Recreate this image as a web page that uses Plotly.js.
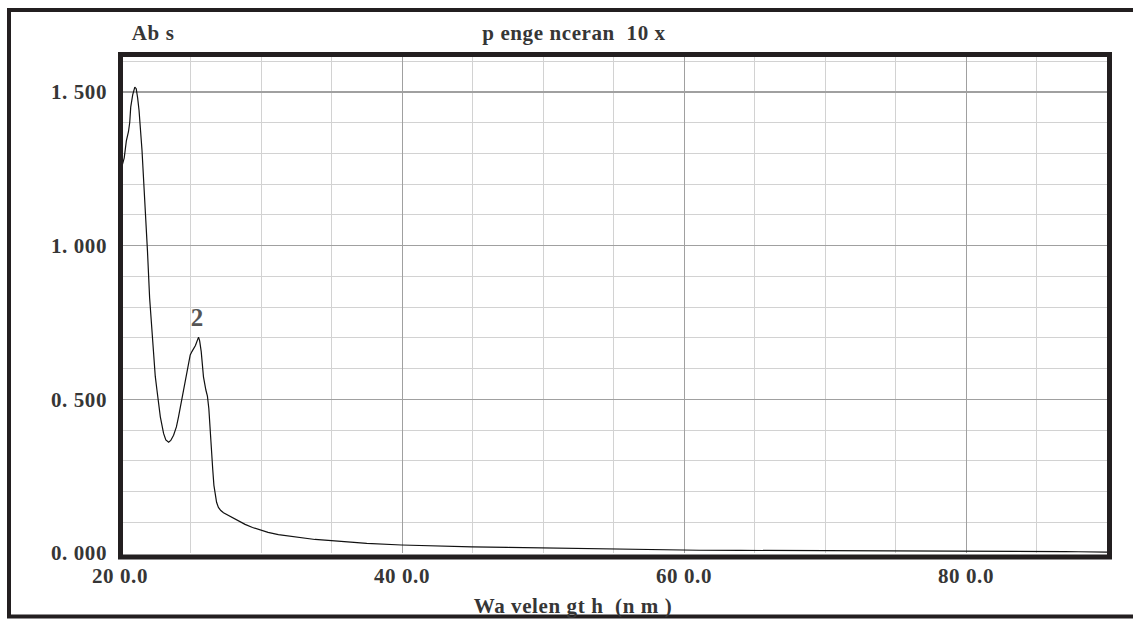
<!DOCTYPE html>
<html>
<head>
<meta charset="utf-8">
<script src="https://cdn.plot.ly/plotly-3.0.1.min.js"></script>
<style>
html,body{margin:0;padding:0;background:#fff;}
#chart{width:1133px;height:619px;}
#chart svg text{letter-spacing:0.6px;}
</style>
</head>
<body>
<div id="chart"></div>
<script>
// Wavelength (nm) and absorbance
var wavelength = [200, 201.5, 203, 204.5, 206, 206.9, 207.6, 209, 210.5, 211.5, 212.5, 213.5, 215.6, 218, 219.5, 221, 222.5, 223.8, 225, 226.2, 228.6, 230.9, 232.5, 234.5, 236, 238, 240, 241.5, 243, 244, 245.1, 247.5, 249.8, 251, 252.1, 253.5, 255.7, 256.5, 257.6, 258.5, 259.2, 260.9, 262, 263, 264, 265, 265.8, 266.6, 267.5, 268.5, 269.8, 271.5, 273.4, 277, 281.7, 285, 288.7, 294, 299.3, 305, 312.3, 318, 324.1, 331, 338.3, 350, 359.5, 375, 399.6, 425, 449.6, 475, 499.4, 525, 549.3, 575, 587, 610.7, 640, 670, 700, 730, 752, 758, 764, 770, 776, 790, 795, 800, 820, 848, 852, 858, 870, 880, 890, 900];
var absorbance = [1.20, 1.26, 1.285, 1.34, 1.37, 1.40, 1.45, 1.49, 1.515, 1.51, 1.48, 1.44, 1.31, 1.12, 0.98, 0.83, 0.72, 0.63, 0.575, 0.53, 0.443, 0.389, 0.368, 0.360, 0.366, 0.383, 0.41, 0.443, 0.48, 0.50, 0.52, 0.578, 0.644, 0.655, 0.662, 0.675, 0.702, 0.69, 0.655, 0.61, 0.573, 0.530, 0.51, 0.47, 0.41, 0.33, 0.27, 0.22, 0.19, 0.165, 0.148, 0.138, 0.131, 0.122, 0.111, 0.102, 0.093, 0.083, 0.075, 0.067, 0.060, 0.056, 0.052, 0.048, 0.044, 0.040, 0.036, 0.031, 0.026, 0.022, 0.020, 0.018, 0.016, 0.014, 0.012, 0.0115, 0.010, 0.009, 0.0085, 0.008, 0.0075, 0.007, 0.0075, 0.0085, 0.0075, 0.0085, 0.007, 0.0065, 0.0075, 0.006, 0.0055, 0.005, 0.0062, 0.005, 0.0045, 0.004, 0.0035, 0.003];

var xTickVals = [200, 400, 600, 800];
var xTickText = ["20 0.0", "40 0.0", "60 0.0", "80 0.0"];
var yTickVals = [0, 0.5, 1.0, 1.5];
var yTickText = ["0. 000", "0. 500", "1. 000", "1. 500"];

var chartTitle = "p enge nceran  10 x";
var xTitle = "Wa velen gt h  (n m )";
var yTitle = "Ab s";
var peakLabel = "2";

// locate the second peak in the data for its label
var peakIdx = 0, peakVal = -1;
for (var i = 0; i < wavelength.length; i++) {
  if (wavelength[i] > 240 && wavelength[i] < 270 && absorbance[i] > peakVal) { peakVal = absorbance[i]; peakIdx = i; }
}

var serif = "Liberation Serif, Times New Roman, serif";
var txtColor = "#363636";
var fs = 21;

var trace = {
  x: wavelength, y: absorbance, type: "scatter", mode: "lines",
  line: {color: "#111111", width: 1.2}, hoverinfo: "skip"
};

var layout = {
  width: 1133, height: 619,
  margin: {l: 120, r: 26, t: 57, b: 66},
  paper_bgcolor: "#ffffff", plot_bgcolor: "#ffffff",
  showlegend: false,
  title: {
    text: chartTitle, xref: "container", yref: "container",
    x: 574/1133, y: 1 - 33/619, xanchor: "center", yanchor: "middle",
    font: {family: serif, size: fs, color: txtColor, weight: "bold"}
  },
  xaxis: {
    range: [200, 900], showgrid: true, gridcolor: "#a0a0a0", gridwidth: 1,
    tickmode: "array", tickvals: xTickVals, ticktext: xTickText,
    ticks: "", ticklabelstandoff: 8,
    tickfont: {family: serif, size: fs, color: txtColor, weight: "bold"},
    minor: {dtick: 50, showgrid: true, gridcolor: "#d2d2d2", gridwidth: 1},
    zeroline: false, showline: false, fixedrange: true
  },
  yaxis: {
    range: [0, 1.613], showgrid: true, gridcolor: "#a0a0a0", gridwidth: 1.5,
    tickmode: "array", tickvals: yTickVals, ticktext: yTickText,
    ticks: "", ticklabelstandoff: 12,
    tickfont: {family: serif, size: fs, color: txtColor, weight: "bold"},
    minor: {dtick: 0.1, showgrid: true, gridcolor: "#d2d2d2", gridwidth: 1},
    zeroline: false, showline: false, fixedrange: true
  },
  annotations: [
    {text: yTitle, xref: "paper", yref: "paper", x: (153 - 120)/987, y: (553 - 33)/496,
     xanchor: "center", yanchor: "middle", showarrow: false,
     font: {family: serif, size: fs, color: txtColor, weight: "bold"}},
    {text: xTitle, xref: "paper", yref: "paper", x: (573 - 120)/987, y: (553 - 606)/496,
     xanchor: "center", yanchor: "middle", showarrow: false,
     font: {family: serif, size: fs, color: txtColor, weight: "bold"}},
    {text: peakLabel, xref: "x", yref: "y", x: wavelength[peakIdx], y: peakVal,
     xanchor: "center", yanchor: "bottom", yshift: 4, xshift: -1, showarrow: false,
     font: {family: serif, size: 25, color: "#555555", weight: "bold"}}
  ],
  shapes: [
    // outer frame
    {type: "rect", xref: "paper", yref: "paper",
     x0: (9 - 120)/987, x1: (1145 - 120)/987, y0: (553 - 616.5)/496, y1: (553 - 10)/496,
     line: {color: "#231f20", width: 4}, fillcolor: "rgba(0,0,0,0)", layer: "above"},
    // plot frame
    {type: "rect", xref: "paper", yref: "paper",
     x0: (120.5 - 120)/987, x1: (1109.5 - 120)/987, y0: (553 - 557)/496, y1: (553 - 54.5)/496,
     line: {color: "#231f20", width: 5}, fillcolor: "rgba(0,0,0,0)", layer: "above"}
  ]
};

Plotly.newPlot("chart", [trace], layout, {staticPlot: true, displayModeBar: false});
</script>
</body>
</html>
